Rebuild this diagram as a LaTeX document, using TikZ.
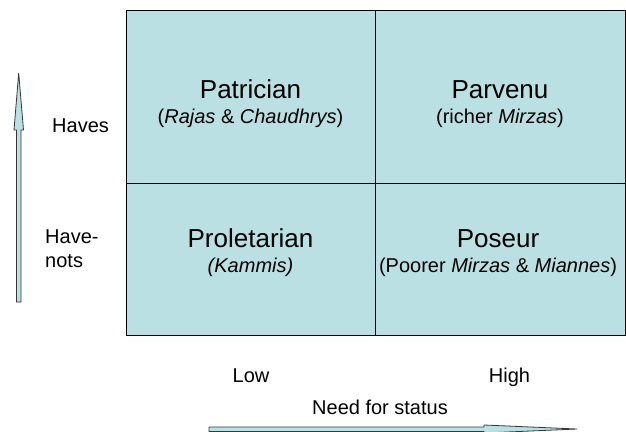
\documentclass[tikz,border=0pt]{standalone}
\usepackage{fontspec}
\setmainfont{Liberation Sans}
\usetikzlibrary{positioning}
\definecolor{cellblue}{RGB}{187,224,227}
\definecolor{rimgray}{RGB}{55,55,55}
\tikzset{% looks of the status grid
        quad title/.style={anchor=base, font=\fontsize{26}{30}\selectfont},
        quad note/.style={anchor=base, font=\fontsize{20}{24}\selectfont},
        side label/.style={anchor=base west, inner sep=0pt, font=\fontsize{20}{24}\selectfont},
        foot label/.style={anchor=base, font=\fontsize{20}{24}\selectfont},
        axis arrow/.style={draw=rimgray, fill=cellblue, line width=0.8pt, line join=miter}
        }

\begin{document}
\begin{tikzpicture}[x=1pt,y=-1pt]
\useasboundingbox (0,0) rectangle (626,431);
\draw [fill=cellblue, line width=1pt] (126,10) rectangle (625,335);
\draw [line width=1pt] (375,10) -- (375,335);
\draw [line width=1pt] (126,183) -- (625,183);
\node [quad title] (patrician) at (250.5,98) {Patrician};
\node [quad note] (patnote) at (250.5,123) {(\textit{Rajas} \& \textit{Chaudhrys})};
\node [quad title] (parvenu) at (500,98) {Parvenu};
\node [quad note] (parnote) at (500,123) {(richer \textit{Mirzas})};
\node [quad title] (proletarian) at (250.5,247) {Proletarian};
\node [quad note] (pronote) at (250.5,272) {\textit{(Kammis)}};
\node [quad title] (poseur) at (498,247) {Poseur};
\node [quad note] (posnote) at (498,272) {(Poorer \textit{Mirzas} \& \textit{Miannes})};
\node [side label] (haves) at (52,132) {Haves};
\node [side label] (havenots) at (45,243) {Have-};
\node [side label] (nots) at (45,267) {nots};
\node [foot label] (low) at (251,382) {Low};
\node [foot label] (high) at (509.5,382) {High};
\node [foot label] (need) at (380,414) {Need for status};
\draw [axis arrow] (16.5,302) -- (16.5,130) -- (14,130) -- (18.7,73) -- (23.5,130) -- (21,130) -- (21,302) -- cycle;
\draw [axis arrow] (209,427) -- (484,427) -- (484,425) -- (577,429) -- (484,433) -- (484,431.5) -- (209,431.5) -- cycle;
\end{tikzpicture}
\end{document}
